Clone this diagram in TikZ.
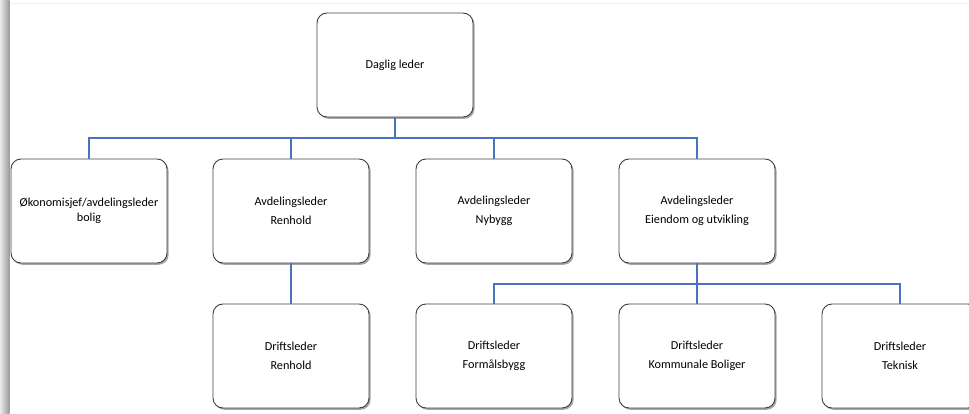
\documentclass[tikz,border=0pt]{standalone}
\usepackage{fontspec}
\setmainfont{Carlito}
\usetikzlibrary{shadows}
\definecolor{conn}{HTML}{4A72BF}
\definecolor{boxline}{HTML}{3F3F3F}
\tikzset{
  orgbox/.style={draw=boxline, line width=0.9pt, fill=white, rounded corners=10pt,
    minimum width=156pt, minimum height=104pt, inner sep=0pt, align=center,
    font=\fontsize{12.2}{19}\selectfont,
    drop shadow={shadow xshift=1.6pt, shadow yshift=-1.8pt, opacity=0.35, fill=black}},
  connector/.style={draw=conn, line width=1.1pt}
}
\begin{document}
\begin{tikzpicture}[x=1pt,y=-1pt]
\clip (0,0) rectangle (969,414);
\fill[white] (0,0) rectangle (969,414);
% page edge shading
\shade[left color=black!8, right color=black!40] (0,0) rectangle (9.5,414);
\draw[black!5, line width=0.6pt] (10,3) -- (969,3);
% nodes
\node[orgbox, font=\fontsize{12.2}{15}\selectfont] (b1) at (89,211) {Økonomisjef/avdelingsleder\\bolig};
\node[orgbox] (top) at (395,65) {Daglig leder};
\node[orgbox] (b2) at (291,211) {Avdelingsleder\\Renhold};
\node[orgbox] (b3) at (494,211) {Avdelingsleder\\Nybygg};
\node[orgbox] (b4) at (697,211) {Avdelingsleder\\Eiendom og utvikling};
\node[orgbox] (c1) at (291,356) {Driftsleder\\Renhold};
\node[orgbox] (c2) at (494,356) {Driftsleder\\Formålsbygg};
\node[orgbox] (c3) at (697,356) {Driftsleder\\Kommunale Boliger};
\node[orgbox] (c4) at (900,356) {Driftsleder\\Teknisk};
% connectors
\coordinate (bar1) at (395,138);
\coordinate (bar2) at (697,284);
\draw[connector] (top.south) -- (bar1);
\draw[connector] (b1.north) |- (bar1);
\draw[connector] (b2.north) |- (bar1);
\draw[connector] (b3.north) |- (bar1);
\draw[connector] (b4.north) |- (bar1);
\draw[connector] (b2.south) -- (c1.north);
\draw[connector] (b4.south) -- (c3.north);
\draw[connector] (c2.north) |- (bar2);
\draw[connector] (c4.north) |- (bar2);
\end{tikzpicture}
\end{document}
